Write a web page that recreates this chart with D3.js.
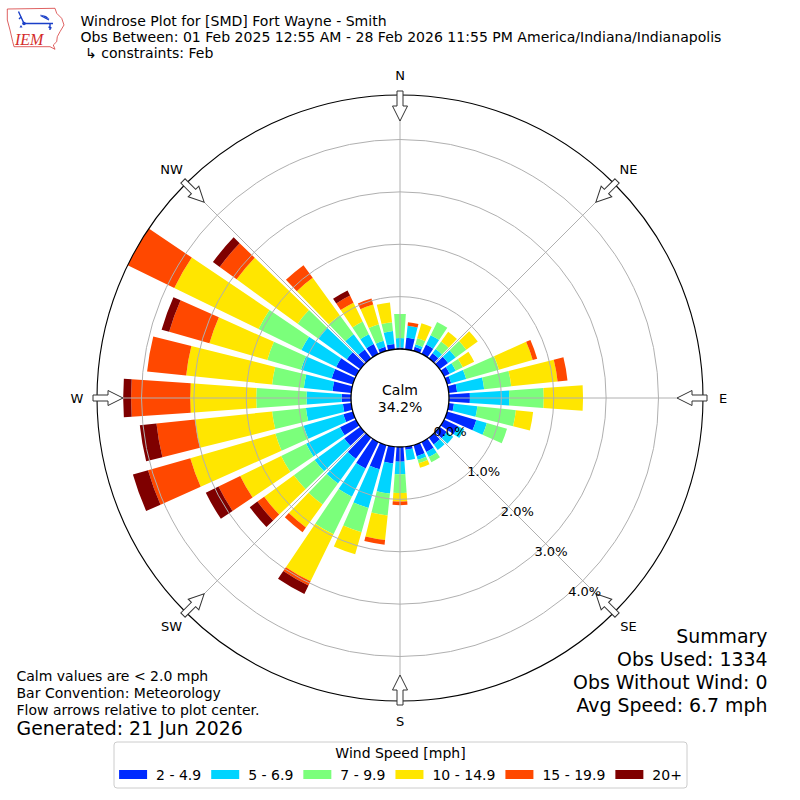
<!DOCTYPE html>
<html>
<head>
<meta charset="utf-8">
<script src="https://cdn.jsdelivr.net/npm/d3@7"></script>
<style>
body { margin: 0; background: #fff; }
svg text { font-family: "DejaVu Sans", sans-serif; fill: #000; }
</style>
</head>
<body>
<svg id="chart" width="800" height="800"></svg>
<script>
// wind direction bins (degrees, meteorological) and speed bins
var directions = d3.range(0, 360, 10);
var speedBins = ["2 - 4.9", "5 - 6.9", "7 - 9.9", "10 - 14.9", "15 - 19.9", "20+"];
var binColors = ["#002aff", "#00d4ff", "#7bff7b", "#ffe600", "#ff4800", "#7f0000"];

// percent of obs, one value per direction (0, 10, ... 350)
var spd2 = [0.03, 0.22, 0.08, 0.20, 0.12, 0.20, 0.12, 0.08, 0.16, 0.40, 0.10, 0.58, 0.30, 0.17, 0.16, 0.21, 0.22, 0.06,
            0.28, 0.32, 0.48, 0.56, 0.50, 0.38, 0.34, 0.19, 0.16, 0.18, 0.36, 0.42, 0.42, 0.32, 0.21, 0.21, 0.08, 0.10];
var spd5 = [0.18, 0.23, 0.05, 0.20, 0.10, 0.18, 0.13, 0.30, 0.52, 0.75, 0.45, 0.21, 0.13, 0.15, 0.13, 0.11, 0.07, 0.20,
            0.24, 0.58, 0.77, 0.60, 0.58, 0.70, 0.72, 0.79, 0.71, 0.67, 0.55, 0.61, 0.74, 0.67, 0.36, 0.21, 0.12, 0.25];
var spd7 = [0.46, 0.00, 0.12, 0.28, 0.18, 0.25, 0.15, 0.65, 0.52, 0.66, 0.74, 0.40, 0.00, 0.00, 0.00, 0.11, 0.07, 0.00,
            0.36, 0.42, 0.48, 0.80, 0.50, 0.49, 0.53, 0.56, 0.65, 0.96, 0.61, 0.67, 0.91, 0.49, 0.45, 0.27, 0.33, 0.17];
var spd10 = [0.00, 0.00, 0.30, 0.00, 0.23, 0.27, 0.24, 0.67, 0.89, 0.75, 0.33, 0.00, 0.00, 0.00, 0.00, 0.00, 0.09, 0.00,
             0.16, 0.47, 0.44, 1.00, 0.54, 0.70, 0.87, 1.69, 1.48, 1.26, 1.65, 1.15, 1.79, 1.44, 0.88, 0.40, 0.39, 0.38];
var spd15 = [0.00, 0.07, 0.00, 0.00, 0.00, 0.00, 0.00, 0.09, 0.19, 0.00, 0.00, 0.00, 0.00, 0.00, 0.00, 0.00, 0.00, 0.00,
             0.07, 0.09, 0.00, 0.09, 0.11, 0.16, 0.46, 0.84, 0.74, 1.13, 0.75, 0.80, 0.99, 0.40, 0.30, 0.15, 0.12, 0.00];
var spd20 = [0.00, 0.00, 0.00, 0.00, 0.00, 0.00, 0.00, 0.00, 0.00, 0.00, 0.00, 0.00, 0.00, 0.00, 0.00, 0.00, 0.00, 0.00,
             0.00, 0.00, 0.00, 0.18, 0.00, 0.18, 0.27, 0.30, 0.32, 0.15, 0.00, 0.15, 0.00, 0.16, 0.00, 0.11, 0.00, 0.00];
var binValues = [spd2, spd5, spd7, spd10, spd15, spd20];

var ringTicks = [0, 1, 2, 3, 4];
var compassNames = ["N", "NE", "E", "SE", "S", "SW", "W", "NW"];
var compassAngles = [0, 45, 90, 135, 180, 225, 270, 315];

var calmPct = "34.2%";
var titleLines = ["Windrose Plot for [SMD] Fort Wayne - Smith",
                  "Obs Between: 01 Feb 2025 12:55 AM - 28 Feb 2026 11:55 PM America/Indiana/Indianapolis",
                  " \u21b3 constraints: Feb"];
var noteLines = ["Calm values are < 2.0 mph", "Bar Convention: Meteorology", "Flow arrows relative to plot center."];
var summaryLines = ["Summary", "Obs Used: 1334", "Obs Without Wind: 0", "Avg Speed: 6.7 mph"];

var svg = d3.select("#chart"),
	cx = 400,
	cy = 398,
	calmR = 49,
	outerR = 303,
	toRad = Math.PI / 180;

var rows = directions.map(function(d, i) {
	var o = {dir: d};
	speedBins.forEach(function(k, j) {
		o[k] = binValues[j][i];
	});
	return o;
});
var layers = d3.stack().keys(speedBins)(rows);
var maxTotal = d3.max(rows, function(d) {
	return d3.sum(speedBins, function(k) { return d[k]; });
});

var r = d3.scaleLinear().domain([0, maxTotal]).range([calmR, outerR]);
var arc = d3.arc();

var plot = svg.append("g").attr("transform", "translate(" + cx + "," + cy + ")");

// bars
layers.forEach(function(layer, j) {
	plot.append("g")
		.attr("fill", binColors[j])
		.selectAll("path")
		.data(layer.filter(function(d) { return d[1] - d[0] > 0; }))
		.enter().append("path")
		.attr("d", function(d) {
			return arc({
				innerRadius: r(d[0]),
				outerRadius: r(d[1]),
				startAngle: (d.data.dir - 4) * toRad,
				endAngle: (d.data.dir + 4) * toRad
			});
		});
});

// grid on top of the bars
plot.append("g").selectAll("circle")
	.data(ringTicks.filter(function(t) { return t > 0; }))
	.enter().append("circle")
	.attr("r", function(d) { return r(d); })
	.attr("fill", "none")
	.attr("stroke", "#b0b0b0")
	.attr("stroke-width", 1);

plot.append("g").selectAll("line")
	.data(compassAngles)
	.enter().append("line")
	.attr("x1", function(d) { return calmR * Math.sin(d * toRad); })
	.attr("y1", function(d) { return -calmR * Math.cos(d * toRad); })
	.attr("x2", function(d) { return outerR * Math.sin(d * toRad); })
	.attr("y2", function(d) { return -outerR * Math.cos(d * toRad); })
	.attr("stroke", "#b0b0b0")
	.attr("stroke-width", 1);

plot.append("circle").attr("r", outerR)
	.attr("fill", "none").attr("stroke", "#000").attr("stroke-width", 1.1);

// calm circle
plot.append("circle").attr("r", calmR)
	.attr("fill", "#fff").attr("stroke", "#000").attr("stroke-width", 1.3);
plot.append("text").attr("x", 0).attr("y", -3).attr("text-anchor", "middle")
	.style("font-size", "14px").text("Calm");
plot.append("text").attr("x", 0).attr("y", 14).attr("text-anchor", "middle")
	.style("font-size", "14px").text(calmPct);

// flow arrows
var arrowPts = [[-3, -307], [3, -307], [3, -292], [7.5, -292], [0, -277], [-7.5, -292], [-3, -292]];
plot.append("g").selectAll("path")
	.data(compassAngles)
	.enter().append("path")
	.attr("d", "M" + arrowPts.join("L") + "Z")
	.attr("transform", function(d) { return "rotate(" + d + ")"; })
	.attr("fill", "#fff")
	.attr("stroke", "#333")
	.attr("stroke-width", 1);

// compass labels
plot.append("g").selectAll("text")
	.data(compassNames)
	.enter().append("text")
	.attr("x", function(d, i) { return 323 * Math.sin(compassAngles[i] * toRad); })
	.attr("y", function(d, i) { return -323 * Math.cos(compassAngles[i] * toRad) + 4.7; })
	.attr("text-anchor", "middle")
	.style("font-size", "13px")
	.text(function(d) { return d; });

// radius labels
plot.append("g").selectAll("text")
	.data(ringTicks)
	.enter().append("text")
	.attr("x", function(d) { return r(d) * Math.sin(140 * toRad) + 18.5; })
	.attr("y", function(d) { return -r(d) * Math.cos(140 * toRad) - 4.5 + 4.7; })
	.attr("text-anchor", "middle")
	.style("font-size", "13px")
	.text(function(d) { return d3.format(".1f")(d) + "%"; });

// title
svg.append("g").selectAll("text")
	.data(titleLines)
	.enter().append("text")
	.attr("x", 80.5)
	.attr("y", function(d, i) { return 26 + i * 16.2; })
	.attr("xml:space", "preserve")
	.style("white-space", "pre")
	.style("font-size", "14.06px")
	.text(function(d) { return d; });

// logo
var logo = svg.append("g");
logo.append("path")
	.attr("d", "M7.3,9 L55,8.3 L56.7,13.3 L61.7,18.3 L64,25 L60,31.7 L57.3,36.7 L56.7,41.7 L53.3,45 L55,49.3 L50,46.7 L14,46.7 L12.7,41.7 L10,30 L7.3,20 Z")
	.attr("fill", "none").attr("stroke", "#d63a3a").attr("stroke-width", 0.8);
logo.append("path")
	.attr("d", "M18.5,11.5 L21,17 L19,19 M21,17 L24,23.5 L53,23.5 M40.5,15.5 L49,20 M50,23.5 L50,30 M48.5,27 L51.5,28")
	.attr("fill", "none").attr("stroke", "#1a3fc8").attr("stroke-width", 1.4);
logo.append("path")
	.attr("d", "M40,14.5 L47,18.5 L49.5,19 L46,16 Z").attr("fill", "#1a3fc8");
logo.append("circle").attr("cx", 24).attr("cy", 23.5).attr("r", 1.8).attr("fill", "#1a3fc8");
logo.append("path").attr("d", "M19.5,27.5 L21,25 L22.5,27.5 Z").attr("fill", "#1a3fc8");
logo.append("text").attr("x", 15).attr("y", 44.5)
	.style("font-family", "'Liberation Serif', serif").style("font-style", "italic")
	.style("font-size", "16px").style("fill", "#d42a2a").text("IEM");

// notes bottom left
svg.append("g").selectAll("text")
	.data(noteLines)
	.enter().append("text")
	.attr("x", 16.5)
	.attr("y", function(d, i) { return 681 + i * 17; })
	.style("font-size", "14px")
	.text(function(d) { return d; });
svg.append("text").attr("x", 16.5).attr("y", 735)
	.style("font-size", "18.9px").text("Generated: 21 Jun 2026");

// summary bottom right
svg.append("g").selectAll("text")
	.data(summaryLines)
	.enter().append("text")
	.attr("x", 767.5)
	.attr("y", function(d, i) { return 642.5 + i * 23.2; })
	.attr("text-anchor", "end")
	.style("font-size", "18.9px")
	.text(function(d) { return d; });

// legend
var legend = svg.append("g");
legend.append("rect")
	.attr("x", 114).attr("y", 742).attr("width", 573).attr("height", 46)
	.attr("rx", 3).attr("fill", "#fff").attr("stroke", "#cccccc").attr("stroke-width", 1);
legend.append("text").attr("x", 400.5).attr("y", 758)
	.attr("text-anchor", "middle").style("font-size", "14px").text("Wind Speed [mph]");

var items = legend.append("g");
var xPos = 0;
speedBins.forEach(function(label, j) {
	items.append("rect").attr("x", xPos).attr("y", 770).attr("width", 28).attr("height", 9)
		.attr("fill", binColors[j]);
	var t = items.append("text").attr("x", xPos + 37).attr("y", 779.5)
		.style("font-size", "14px").text(label);
	xPos += 37 + t.node().getComputedTextLength() + (j < speedBins.length - 1 ? 10 : 0);
});
items.attr("transform", "translate(" + (400.5 - xPos / 2) + ",0)");
</script>
</body>
</html>
